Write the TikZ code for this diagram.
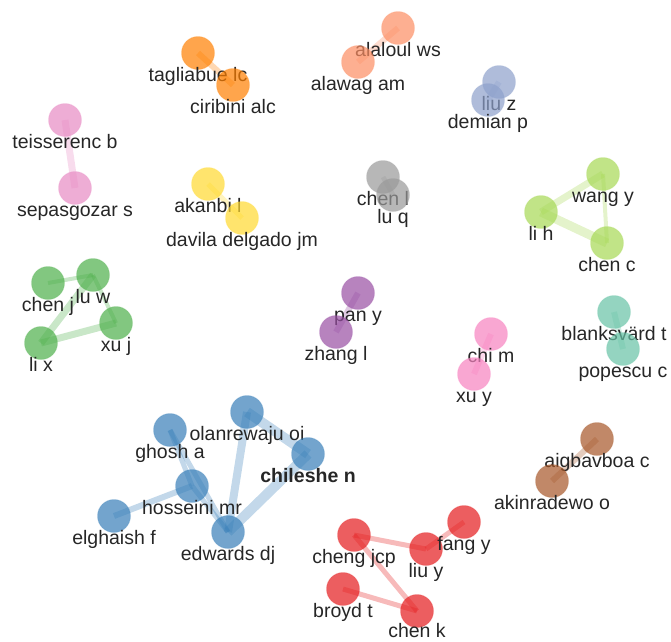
\documentclass[tikz,border=0pt]{standalone}
\usepackage{fontspec}
\setmainfont{Liberation Sans}
\usepackage{xcolor}
\usepackage{tikz}
\usetikzlibrary{positioning}
\pgfdeclarelayer{links}
\pgfsetlayers{links,main}
% cluster colours
\definecolor{cRed}{HTML}{E41A1C}
\definecolor{cBlue}{HTML}{377EB8}
\definecolor{cGreen}{HTML}{4DAF4A}
\definecolor{cPurple}{HTML}{984EA3}
\definecolor{cOrange}{HTML}{FF7F00}
\definecolor{cBrown}{HTML}{A65628}
\definecolor{cPink}{HTML}{F781BF}
\definecolor{cGray}{HTML}{999999}
\definecolor{cTeal}{HTML}{66C2A5}
\definecolor{cSalmon}{HTML}{FC8D62}
\definecolor{cLavender}{HTML}{8DA0CB}
\definecolor{cMauve}{HTML}{E78AC3}
\definecolor{cLime}{HTML}{A6D854}
\definecolor{cYellow}{HTML}{FFD92F}
\tikzset{
    x = 1pt, y = -1pt,                          % One unit per pixel, y going down
    author/.style={circle, minimum size=33pt, inner sep=0pt,
        fill=#1, fill opacity=0.7, draw=#1, draw opacity=0.2, line width=1pt},  % Circle of one author
    who/.style={label={[tag]below:#1}},         % Name printed under the circle
    tag/.style={text=black!85, text opacity=1, fill opacity=0, inner sep=0pt,
        text height=14pt, text depth=4pt, label distance=-2.5pt,
        font=\fontsize{19.5}{23}\selectfont},   % Look of the names
    link/.style={draw=#1, draw opacity=0.3}     % Co-authorship line
}
\begin{document}
\begin{tikzpicture}
            \useasboundingbox (0,0) rectangle (671,641);
            % Define nodes
            \node [author=cOrange, who={tagliabue lc}] (tag) at (198,53) {};
            \node [author=cOrange, who={ciribini alc}] (cir) at (233,85) {};
            \node [author=cSalmon, who={alaloul ws}] (ala) at (398,28) {};
            \node [author=cSalmon, who={alawag am}] (alw) at (358,62) {};
            \node [author=cLavender, who={liu z}] (liz) at (499,82) {};
            \node [author=cLavender, who={demian p}] (dem) at (488,100) {};
            \node [author=cMauve, who={teisserenc b}] (tei) at (65,120) {};
            \node [author=cMauve, who={sepasgozar s}] (sep) at (75,188) {};
            \node [author=cYellow, who={akanbi l}] (aka) at (208,184) {};
            \node [author=cYellow, who={davila delgado jm}] (dav) at (242,218) {};
            \node [author=cGray, who={chen l}] (chl) at (383,177) {};
            \node [author=cGray, who={lu q}] (luq) at (393,195) {};
            \node [author=cLime, who={wang y}] (way) at (603,174) {};
            \node [author=cLime, who={li h}] (lih) at (541,212) {};
            \node [author=cLime, who={chen c}] (chc) at (607,243) {};
            \node [author=cGreen, who={chen j}] (chj) at (48,283) {};
            \node [author=cGreen, who={lu w}] (luw) at (93,275) {};
            \node [author=cGreen, who={xu j}] (xuj) at (116,323) {};
            \node [author=cGreen, who={li x}] (lix) at (41,343) {};
            \node [author=cPurple, who={pan y}] (pay) at (358,293) {};
            \node [author=cPurple, who={zhang l}] (zhl) at (336,332) {};
            \node [author=cPink, who={chi m}] (chm) at (491,334) {};
            \node [author=cPink, who={xu y}] (xuy) at (474,374) {};
            \node [author=cTeal, who={blanksvärd t}] (bla) at (614,312) {};
            \node [author=cTeal, who={popescu c}] (pop) at (623,349) {};
            \node [author=cBrown, who={aigbavboa c}] (aig) at (597,439) {};
            \node [author=cBrown, who={akinradewo o}] (aki) at (552,481) {};
            \node [author=cBlue, who={ghosh a}] (gho) at (170,430) {};
            \node [author=cBlue, who={olanrewaju oi}] (ola) at (247,412) {};
            \node [author=cBlue, who={\textbf{chileshe n}}] (chi) at (308,454) {};
            \node [author=cBlue, who={hosseini mr}] (hos) at (192,486) {};
            \node [author=cBlue, who={elghaish f}] (elg) at (114,516) {};
            \node [author=cBlue, who={edwards dj}] (edw) at (228,532) {};
            \node [author=cRed, who={cheng jcp}] (chg) at (354,535) {};
            \node [author=cRed, who={liu y}] (liy) at (426,549) {};
            \node [author=cRed, who={fang y}] (fay) at (464,522) {};
            \node [author=cRed, who={broyd t}] (bro) at (343,589) {};
            \node [author=cRed, label={[tag, text depth=0pt, label distance=-5pt]below:chen k}] (chk) at (417,611) {};

            % Draw links
            \begin{pgfonlayer}{links}
            \path   (tag.center) edge[link=cOrange, line width=6pt] (cir.center)
                    (ala.center) edge[link=cSalmon, line width=6pt] (alw.center)
                    (liz.center) edge[link=cLavender, line width=6pt] (dem.center)
                    (tei.center) edge[link=cMauve, line width=7pt] (sep.center)
                    (aka.center) edge[link=cYellow, line width=5pt] (dav.center)
                    (chl.center) edge[link=cGray, line width=5pt] (luq.center)
                    (lih.center) edge[link=cLime, line width=7pt] (way.center)
                                 edge[link=cLime, line width=9pt] (chc.center)
                    (way.center) edge[link=cLime, line width=4pt] (chc.center)
                    (chj.center) edge[link=cGreen, line width=4pt] (luw.center)
                    (luw.center) edge[link=cGreen, line width=4pt] (xuj.center)
                    (lix.center) edge[link=cGreen, line width=7pt] (xuj.center)
                                 edge[link=cGreen, line width=7pt] (luw.center)
                    (pay.center) edge[link=cPurple, line width=6pt] (zhl.center)
                    (chm.center) edge[link=cPink, line width=6pt] (xuy.center)
                    (bla.center) edge[link=cTeal, line width=6pt] (pop.center)
                    (aig.center) edge[link=cBrown, line width=6pt] (aki.center)
                    (gho.center) edge[link=cBlue, line width=5pt] (hos.center)
                                 edge[link=cBlue, line width=5pt] (edw.center)
                    (hos.center) edge[link=cBlue, line width=6pt] (elg.center)
                                 edge[link=cBlue, line width=5pt] (edw.center)
                    (ola.center) edge[link=cBlue, line width=8pt] (edw.center)
                                 edge[link=cBlue, line width=10pt] (chi.center)
                    (edw.center) edge[link=cBlue, line width=10pt] (chi.center)
                    (chg.center) edge[link=cRed, line width=5pt] (liy.center)
                                 edge[link=cRed, line width=5pt] (chk.center)
                    (liy.center) edge[link=cRed, line width=5pt] (fay.center)
                    (bro.center) edge[link=cRed, line width=5pt] (chk.center);
            \end{pgfonlayer}
        \end{tikzpicture}
\end{document}
